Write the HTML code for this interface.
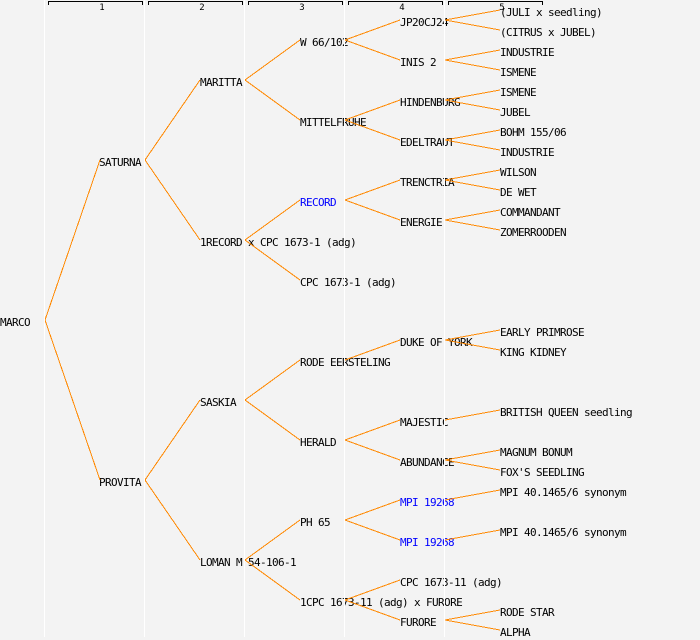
<!DOCTYPE html>
<html>
<head>
<meta charset="utf-8">
<style>
  html, body { margin: 0; padding: 0; background: #f3f3f3; }
  svg { display: block; }
  .t { font-family: "DejaVu Sans Mono", "Liberation Mono", monospace; font-size: 11px; letter-spacing: -0.62px; fill: #000; }
  .b { fill: #0000ff; }
  .h { font-family: "DejaVu Sans Mono", "Liberation Mono", monospace; font-size: 9px; fill: #000; }
</style>
</head>
<body>
<svg width="700" height="640" viewBox="0 0 700 640" xmlns="http://www.w3.org/2000/svg">
  <rect x="0" y="0" width="700" height="640" fill="#f3f3f3"/>

  <!-- Labels -->
  <g class="t">
    <text x="0" y="326">MARCO</text>

    <text x="99" y="166">SATURNA</text>
    <text x="99" y="486">PROVITA</text>

    <text x="200" y="86">MARITTA</text>
    <text x="200" y="246">1RECORD x CPC 1673-1 (adg)</text>
    <text x="200" y="406">SASKIA</text>
    <text x="200" y="566">LOMAN M 54-106-1</text>

    <text x="300" y="46">W 66/102</text>
    <text x="300" y="126">MITTELFRUHE</text>
    <text x="300" y="206" class="t b">RECORD</text>
    <text x="300" y="286">CPC 1673-1 (adg)</text>
    <text x="300" y="366">RODE EERSTELING</text>
    <text x="300" y="446">HERALD</text>
    <text x="300" y="526">PH 65</text>
    <text x="300" y="606">1CPC 1673-11 (adg) x FURORE</text>

    <text x="400" y="26">JP20CJ24</text>
    <text x="400" y="66">INIS 2</text>
    <text x="400" y="106">HINDENBURG</text>
    <text x="400" y="146">EDELTRAUT</text>
    <text x="400" y="186">TRENCTRIA</text>
    <text x="400" y="226">ENERGIE</text>
    <text x="400" y="346">DUKE OF YORK</text>
    <text x="400" y="426">MAJESTIC</text>
    <text x="400" y="466">ABUNDANCE</text>
    <text x="400" y="506" class="t b">MPI 19268</text>
    <text x="400" y="546" class="t b">MPI 19268</text>
    <text x="400" y="586">CPC 1673-11 (adg)</text>
    <text x="400" y="626">FURORE</text>

    <text x="500" y="16">(JULI x seedling)</text>
    <text x="500" y="36">(CITRUS x JUBEL)</text>
    <text x="500" y="56">INDUSTRIE</text>
    <text x="500" y="76">ISMENE</text>
    <text x="500" y="96">ISMENE</text>
    <text x="500" y="116">JUBEL</text>
    <text x="500" y="136">BOHM 155/06</text>
    <text x="500" y="156">INDUSTRIE</text>
    <text x="500" y="176">WILSON</text>
    <text x="500" y="196">DE WET</text>
    <text x="500" y="216">COMMANDANT</text>
    <text x="500" y="236">ZOMERROODEN</text>
    <text x="500" y="336">EARLY PRIMROSE</text>
    <text x="500" y="356">KING KIDNEY</text>
    <text x="500" y="416">BRITISH QUEEN seedling</text>
    <text x="500" y="456">MAGNUM BONUM</text>
    <text x="500" y="476">FOX'S SEEDLING</text>
    <text x="500" y="496">MPI 40.1465/6 synonym</text>
    <text x="500" y="536">MPI 40.1465/6 synonym</text>
    <text x="500" y="616">RODE STAR</text>
    <text x="500" y="636">ALPHA</text>
  </g>

  <!-- Connectors -->
  <g stroke="#ff8800" stroke-width="1" fill="none" shape-rendering="crispEdges">
    <line x1="45" y1="320" x2="100" y2="160"/>
    <line x1="45" y1="320" x2="100" y2="480"/>

    <line x1="145" y1="160" x2="200" y2="80"/>
    <line x1="145" y1="160" x2="200" y2="240"/>
    <line x1="145" y1="480" x2="200" y2="400"/>
    <line x1="145" y1="480" x2="200" y2="560"/>

    <line x1="245" y1="80" x2="300" y2="40"/>
    <line x1="245" y1="80" x2="300" y2="120"/>
    <line x1="245" y1="240" x2="300" y2="200"/>
    <line x1="245" y1="240" x2="300" y2="280"/>
    <line x1="245" y1="400" x2="300" y2="360"/>
    <line x1="245" y1="400" x2="300" y2="440"/>
    <line x1="245" y1="560" x2="300" y2="520"/>
    <line x1="245" y1="560" x2="300" y2="600"/>

    <line x1="345" y1="40" x2="400" y2="20"/>
    <line x1="345" y1="40" x2="400" y2="60"/>
    <line x1="345" y1="120" x2="400" y2="100"/>
    <line x1="345" y1="120" x2="400" y2="140"/>
    <line x1="345" y1="200" x2="400" y2="180"/>
    <line x1="345" y1="200" x2="400" y2="220"/>
    <line x1="345" y1="360" x2="400" y2="340"/>
    <line x1="345" y1="440" x2="400" y2="420"/>
    <line x1="345" y1="440" x2="400" y2="460"/>
    <line x1="345" y1="520" x2="400" y2="500"/>
    <line x1="345" y1="520" x2="400" y2="540"/>
    <line x1="345" y1="600" x2="400" y2="580"/>
    <line x1="345" y1="600" x2="400" y2="620"/>

    <line x1="445" y1="20" x2="500" y2="10"/>
    <line x1="445" y1="20" x2="500" y2="30"/>
    <line x1="445" y1="60" x2="500" y2="50"/>
    <line x1="445" y1="60" x2="500" y2="70"/>
    <line x1="445" y1="100" x2="500" y2="90"/>
    <line x1="445" y1="100" x2="500" y2="110"/>
    <line x1="445" y1="140" x2="500" y2="130"/>
    <line x1="445" y1="140" x2="500" y2="150"/>
    <line x1="445" y1="180" x2="500" y2="170"/>
    <line x1="445" y1="180" x2="500" y2="190"/>
    <line x1="445" y1="220" x2="500" y2="210"/>
    <line x1="445" y1="220" x2="500" y2="230"/>
    <line x1="445" y1="340" x2="500" y2="330"/>
    <line x1="445" y1="340" x2="500" y2="350"/>
    <line x1="445" y1="420" x2="500" y2="410"/>
    <line x1="445" y1="460" x2="500" y2="450"/>
    <line x1="445" y1="460" x2="500" y2="470"/>
    <line x1="445" y1="500" x2="500" y2="490"/>
    <line x1="445" y1="540" x2="500" y2="530"/>
    <line x1="445" y1="620" x2="500" y2="610"/>
    <line x1="445" y1="620" x2="500" y2="630"/>
  </g>

  <!-- Column separators -->
  <g fill="#ffffff">
    <rect x="44" y="0" width="1" height="637"/>
    <rect x="144" y="0" width="1" height="637"/>
    <rect x="244" y="0" width="1" height="637"/>
    <rect x="344" y="0" width="1" height="637"/>
    <rect x="444" y="0" width="1" height="637"/>
  </g>

  <!-- Header brackets -->
  <g stroke="#000" stroke-width="1" fill="none" shape-rendering="crispEdges">
    <path d="M48.5 5 V1.5 H142.5 V5"/>
    <path d="M148.5 5 V1.5 H242.5 V5"/>
    <path d="M248.5 5 V1.5 H342.5 V5"/>
    <path d="M348.5 5 V1.5 H442.5 V5"/>
    <path d="M448.5 5 V1.5 H542.5 V5"/>
  </g>
  <g class="h" text-anchor="middle">
    <text x="102" y="10">1</text>
    <text x="202" y="10">2</text>
    <text x="302" y="10">3</text>
    <text x="402" y="10">4</text>
    <text x="502" y="10">5</text>
  </g>
</svg>
</body>
</html>
